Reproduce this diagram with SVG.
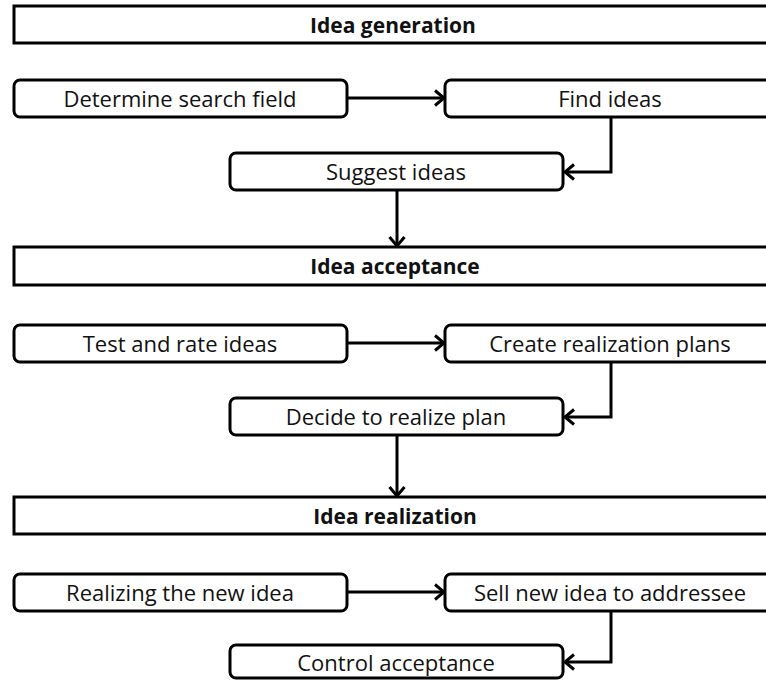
<svg xmlns="http://www.w3.org/2000/svg" width="766" height="680" viewBox="0 0 766 680">
  <style>
    .phase { fill: #fff; stroke: #000; stroke-width: 3; }
    .step { fill: #fff; stroke: #000; stroke-width: 3; }
    .title { font-family: "Open Sans", "Liberation Sans", sans-serif; font-size: 21px; font-weight: bold; fill: #111; text-anchor: middle; }
    .label { font-family: "Open Sans", "Liberation Sans", sans-serif; font-size: 22px; fill: #111; text-anchor: middle; }
    .link { fill: none; stroke: #000; stroke-width: 3; marker-end: url(#arrow); }
  </style>
  <defs>
    <marker id="arrow" markerUnits="userSpaceOnUse" markerWidth="20" markerHeight="20" refX="12" refY="9" orient="auto">
      <path d="M3,1.5 L12,9 L3,16.5" fill="none" stroke="#000" stroke-width="3"/>
    </marker>
  </defs>
  <rect width="766" height="680" fill="#fff"/>

  <!-- Phase 1 -->
  <g id="idea-generation">
    <rect class="phase" x="14" y="6" width="770" height="37"/>
    <text class="title" x="393" y="33">Idea generation</text>
  </g>
  <g id="determine-search-field">
    <rect class="step" x="14" y="80" width="333" height="37" rx="6"/>
    <text class="label" x="180" y="107">Determine search field</text>
  </g>
  <g id="find-ideas">
    <rect class="step" x="445" y="80" width="340" height="37" rx="6"/>
    <text class="label" x="610" y="107">Find ideas</text>
  </g>
  <g id="suggest-ideas">
    <rect class="step" x="230" y="153" width="333" height="37" rx="6"/>
    <text class="label" x="396" y="180">Suggest ideas</text>
  </g>

  <!-- Phase 2 -->
  <g id="idea-acceptance">
    <rect class="phase" x="14" y="247" width="770" height="38"/>
    <text class="title" x="395" y="274">Idea acceptance</text>
  </g>
  <g id="test-and-rate-ideas">
    <rect class="step" x="14" y="325" width="333" height="37" rx="6"/>
    <text class="label" x="180" y="352">Test and rate ideas</text>
  </g>
  <g id="create-realization-plans">
    <rect class="step" x="445" y="325" width="340" height="37" rx="6"/>
    <text class="label" x="610" y="352">Create realization plans</text>
  </g>
  <g id="decide-to-realize-plan">
    <rect class="step" x="230" y="398" width="333" height="37" rx="6"/>
    <text class="label" x="396" y="425">Decide to realize plan</text>
  </g>

  <!-- Phase 3 -->
  <g id="idea-realization">
    <rect class="phase" x="14" y="497" width="770" height="37"/>
    <text class="title" x="395" y="524">Idea realization</text>
  </g>
  <g id="realizing-the-new-idea">
    <rect class="step" x="14" y="574" width="333" height="37" rx="6"/>
    <text class="label" x="180" y="601">Realizing the new idea</text>
  </g>
  <g id="sell-new-idea">
    <rect class="step" x="445" y="574" width="340" height="37" rx="6"/>
    <text class="label" x="610" y="601">Sell new idea to addressee</text>
  </g>
  <g id="control-acceptance">
    <rect class="step" x="230" y="645" width="333" height="33" rx="6"/>
    <text class="label" x="396" y="671">Control acceptance</text>
  </g>

  <!-- Connectors -->
  <g id="connectors">
    <path class="link" d="M347,98 L444,98"/>
    <path class="link" d="M611,117 L611,172 L565,172"/>
    <path class="link" d="M397,190 L397,246"/>
    <path class="link" d="M347,343 L444,343"/>
    <path class="link" d="M611,362 L611,417 L565,417"/>
    <path class="link" d="M397,435 L397,496"/>
    <path class="link" d="M347,592 L444,592"/>
    <path class="link" d="M611,611 L611,662 L565,662"/>
  </g>
</svg>
